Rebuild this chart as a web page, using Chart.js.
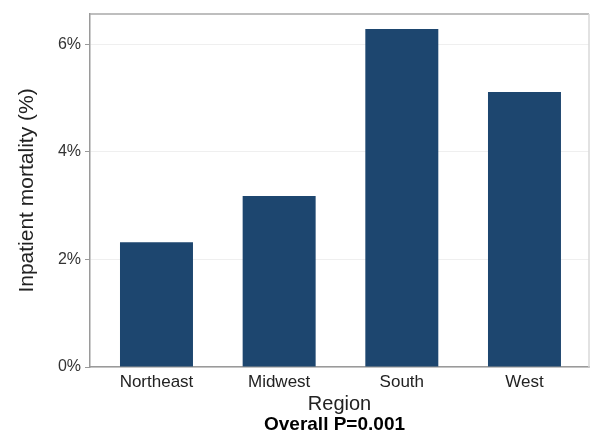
<!DOCTYPE html>
<html>
<head>
<meta charset="utf-8">
<script src="https://cdn.jsdelivr.net/npm/chart.js@4/dist/chart.umd.min.js"></script>
<style>
  html, body { margin: 0; padding: 0; background: #ffffff; }
  #wrap { width: 591px; height: 434px; position: relative; }
</style>
</head>
<body>
<div id="wrap"><canvas id="c" width="591" height="434"></canvas></div>
<script>
// Inpatient mortality by census region
const regions = ['Northeast', 'Midwest', 'South', 'West'];
const mortality = [2.32, 3.18, 6.28, 5.11];
const yTickValues = [0, 2, 4, 6];
const pValueNote = 'Overall P=0.001';

const FONT = '"Liberation Sans", Arial, Helvetica, sans-serif';

// Bars sit at positions 1..n on a numeric x axis so the outer gaps can be tuned
const barPoints = mortality.map((v, i) => ({ x: i + 1, y: v }));

// Top and right edges of the plot frame
const framePlugin = {
  id: 'frame',
  afterDraw(chart) {
    const { ctx, chartArea: a } = chart;
    ctx.save();
    ctx.lineWidth = 1.5;
    ctx.strokeStyle = '#a9a9a9';
    ctx.beginPath();
    ctx.moveTo(a.left, a.top);
    ctx.lineTo(a.right, a.top);
    ctx.stroke();
    ctx.strokeStyle = '#d9d9d9';
    ctx.beginPath();
    ctx.moveTo(a.right, a.top);
    ctx.lineTo(a.right, a.bottom);
    ctx.stroke();
    ctx.restore();
  }
};

// Centre the bottom note under the plot area rather than the whole canvas
const noteUnderPlot = {
  id: 'noteUnderPlot',
  afterLayout(chart) {
    const a = chart.chartArea;
    chart.boxes.forEach(b => {
      if (b.options && b.options.text === pValueNote) {
        b.left = a.left - 8;
        b.right = a.right - 2;
      }
    });
  }
};

new Chart(document.getElementById('c'), {
  type: 'bar',
  data: {
    datasets: [{
      data: barPoints,
      backgroundColor: '#1d466f',
      borderWidth: 0,
      barPercentage: 0.595,
      categoryPercentage: 1.0
    }]
  },
  options: {
    responsive: false,
    animation: false,
    layout: { padding: { top: 14, right: 2, left: 0, bottom: 0 } },
    plugins: {
      legend: { display: false },
      tooltip: { enabled: false },
      subtitle: {
        display: true,
        position: 'bottom',
        text: pValueNote,
        color: '#000000',
        font: { family: FONT, size: 19, weight: 'bold', lineHeight: 1.0 },
        padding: { top: 0, bottom: 0 }
      }
    },
    scales: {
      x: {
        type: 'linear',
        offset: false,
        min: 0.458,
        max: 4.526,
        afterBuildTicks(scale) {
          scale.ticks = regions.map((r, i) => ({ value: i + 1 }));
        },
        afterFit(scale) { scale.height = 48; },
        grid: { display: false, drawTicks: false },
        border: { display: true, color: '#9a9a9a', width: 1.5 },
        ticks: {
          color: '#222222',
          font: { family: FONT, size: 17 },
          padding: 5,
          maxRotation: 0,
          autoSkip: false,
          callback: v => regions[Math.round(v) - 1]
        },
        title: {
          display: true,
          text: 'Region',
          color: '#222222',
          font: { family: FONT, size: 20, lineHeight: 1.0 },
          padding: { top: 0, bottom: 1 }
        }
      },
      y: {
        min: 0,
        max: 6.56,
        afterBuildTicks(scale) {
          scale.ticks = yTickValues.map(v => ({ value: v }));
        },
        afterFit(scale) { scale.width = 90; },
        grid: {
          color: '#efefef',
          lineWidth: 1,
          tickColor: '#9a9a9a',
          tickLength: 5,
          drawTicks: true
        },
        border: { display: true, color: '#9a9a9a', width: 1.5 },
        ticks: {
          color: '#333333',
          font: { family: FONT, size: 16 },
          padding: 4,
          callback: v => v + '%'
        },
        title: {
          display: true,
          text: 'Inpatient mortality (%)',
          color: '#222222',
          font: { family: FONT, size: 21, lineHeight: 1.2 },
          padding: { top: 15, bottom: 0 }
        }
      }
    }
  },
  plugins: [framePlugin, noteUnderPlot]
});
</script>
</body>
</html>
